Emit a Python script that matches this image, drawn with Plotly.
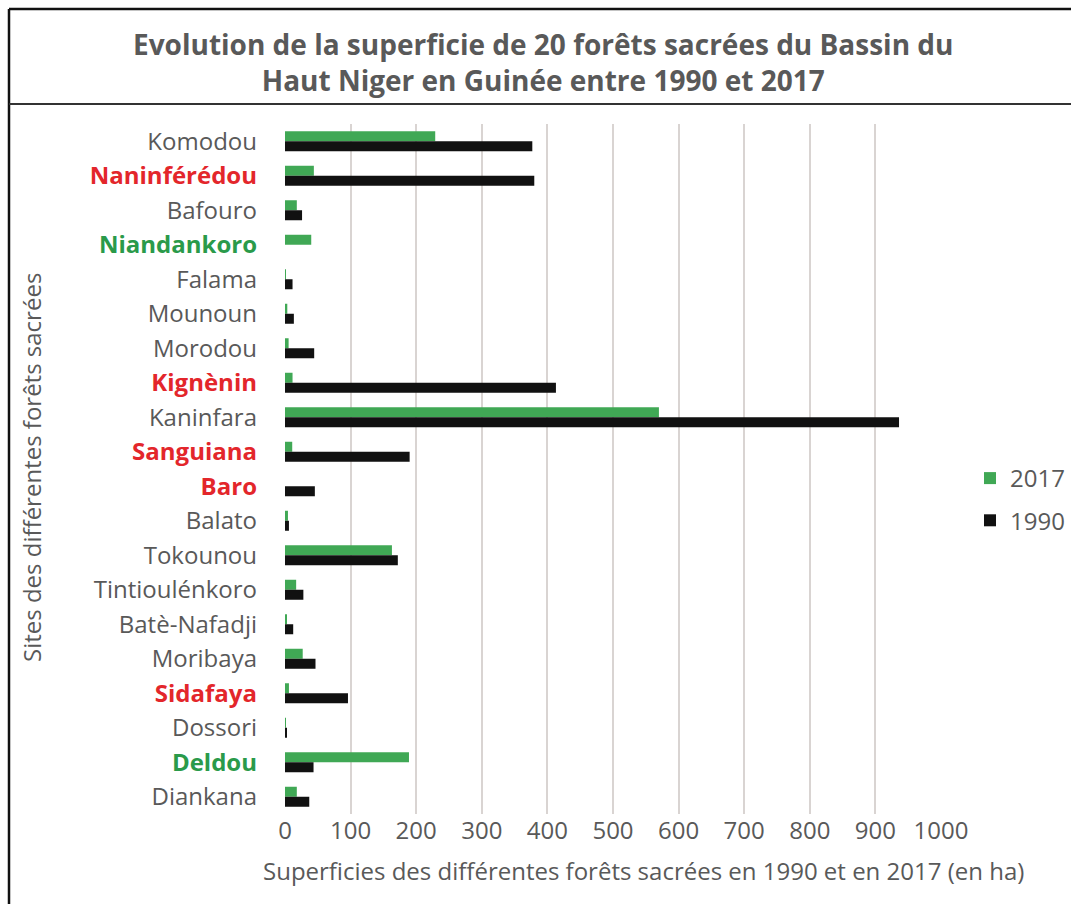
import plotly.graph_objects as go

sites = ["Komodou", "Naninférédou", "Bafouro", "Niandankoro", "Falama", "Mounoun",
         "Morodou", "Kignènin", "Kaninfara", "Sanguiana", "Baro", "Balato", "Tokounou",
         "Tintioulénkoro", "Batè-Nafadji", "Moribaya", "Sidafaya", "Dossori", "Deldou", "Diankana"]
v2017 = [229, 44, 18, 40, 1.5, 3.5, 5.5, 11.5, 570, 11, 0, 4.5, 163, 17, 2, 27, 6, 1, 189, 18]
v1990 = [377, 380, 26, 0, 11.5, 13.5, 44.5, 413, 936, 190, 45.5, 6, 172, 28, 12.5, 46.5, 96, 3, 43.5, 37]
label_colors = {"Naninférédou": "#e3262b", "Kignènin": "#e3262b", "Sanguiana": "#e3262b",
                "Baro": "#e3262b", "Sidafaya": "#e3262b", "Niandankoro": "#2a9a4a", "Deldou": "#2a9a4a"}
xticks = [0, 100, 200, 300, 400, 500, 600, 700, 800, 900, 1000]

def lab(s):
    c = label_colors.get(s)
    if c:
        return f"<b><span style='color:{c}'>{s}</span></b>"
    return s

ylabels = [lab(s) for s in sites]

W, H = 1071, 904
L, R, T, B = 285, 0, 124, 90
PLOT_RIGHT = 941
pw, ph = W - L - R, H - T - B

def px(x):
    return (x - L) / pw

def py(y):
    return (H - B - y) / ph

FONT = "Open Sans"
GRAY = "#595959"
FS = 24

fig = go.Figure()
fig.add_trace(go.Bar(y=sites, x=v2017, name="2017", orientation="h", legendgroup="a",
                     marker=dict(color="#40a855", line=dict(width=0))))
fig.add_trace(go.Bar(y=sites, x=v1990, name="1990", orientation="h", legendgroup="b",
                     marker=dict(color="#111111", line=dict(width=0))))

fig.update_layout(
    width=W, height=H,
    margin=dict(l=L, r=R, t=T, b=B, autoexpand=False),
    paper_bgcolor="white", plot_bgcolor="white",
    barmode="group", bargap=0.42, bargroupgap=0,
    font=dict(family=FONT, color=GRAY, size=FS),
    legend=dict(x=px(970), y=py(456), xanchor="left", yanchor="top",
                font=dict(size=FS, color=GRAY), itemwidth=30, tracegroupgap=8,
                traceorder="grouped"),
    xaxis=dict(range=[0, 1000], domain=[0, px(PLOT_RIGHT)], tickvals=xticks, showgrid=True,
               gridcolor="#d9d4d2", gridwidth=1.5, zeroline=False, showline=False, ticks="",
               automargin=False, tickfont=dict(size=FS, color=GRAY)),
    yaxis=dict(autorange="reversed", tickvals=sites, ticktext=ylabels, showgrid=False,
               ticks="", ticklabelstandoff=27, automargin=False,
               tickfont=dict(size=FS, color=GRAY)),
    shapes=[
        dict(type="line", xref="paper", yref="paper", x0=px(9), x1=px(1071), y0=py(9), y1=py(9),
             line=dict(color="#111111", width=2.5)),
        dict(type="line", xref="paper", yref="paper", x0=px(9), x1=px(9), y0=py(9), y1=py(904),
             line=dict(color="#111111", width=2.5)),
        dict(type="line", xref="paper", yref="paper", x0=px(9), x1=px(1071), y0=py(104), y1=py(104),
             line=dict(color="#333333", width=2)),
    ],
    annotations=[
        dict(text="<b>Evolution de la superficie de 20 forêts sacrées du Bassin du<br>Haut Niger en Guinée entre 1990 et 2017</b>",
             xref="paper", yref="paper", x=px(543), y=py(62), xanchor="center", yanchor="middle",
             showarrow=False, font=dict(size=28, color=GRAY, family=FONT), align="center"),
        dict(text="Sites des différentes forêts sacrées", textangle=-90,
             xref="paper", yref="paper", x=px(31), y=py(468), xanchor="center", yanchor="middle",
             showarrow=False, font=dict(size=FS, color=GRAY)),
        dict(text="Superficies des différentes forêts sacrées en 1990 et en 2017 (en ha)",
             xref="paper", yref="paper", x=px(643), y=py(870), xanchor="center", yanchor="middle",
             showarrow=False, font=dict(size=FS, color=GRAY)),
    ],
)

fig.write_html("out.html", config={"displayModeBar": False},
               post_script="document.body.style.margin='0';document.body.style.overflow='hidden';")
